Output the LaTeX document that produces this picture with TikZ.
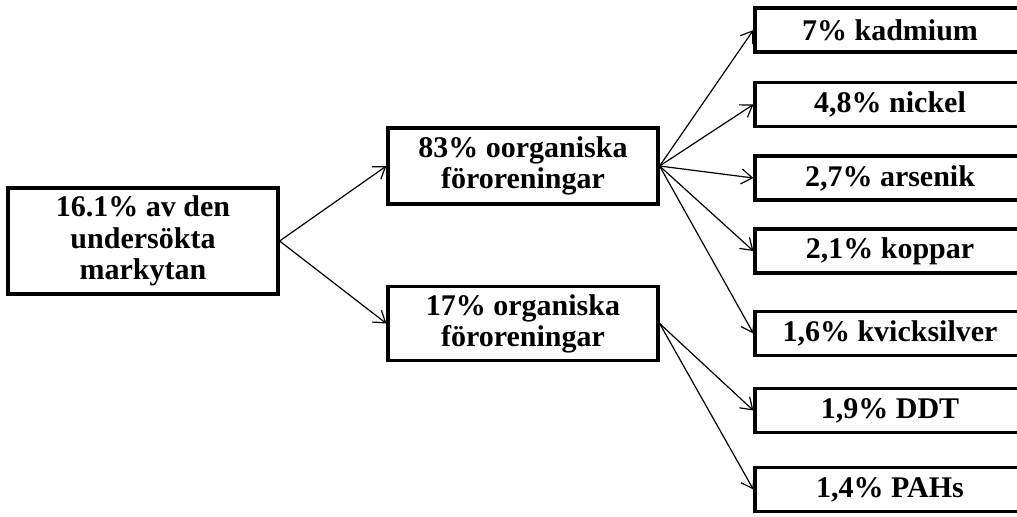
\documentclass[tikz,border=0pt]{standalone}
\usepackage{fontspec}
\setmainfont{Liberation Serif}
\usetikzlibrary{arrows.meta}
\tikzset{
  box/.style={draw=black, line width=1.6pt, fill=white, minimum width=135pt, inner sep=0pt,
    align=center, font=\fontsize{15}{15.6}\selectfont\bfseries},
  lbox/.style={box, minimum height=22pt},
  conn/.style={draw=black, line width=0.6pt, -{Straight Barb[length=5.5pt,width=7.5pt,line width=0.6pt]}}
}
\begin{document}
\begin{tikzpicture}[x=0.5pt,y=-0.5pt]
\clip (0,0) rectangle (1017,516);
\fill[white] (0,0) rectangle (1017,516);
\node[box, minimum height=53pt] (a) at (143,241) {16.1\% av den\\undersökta\\markytan};
\node[box, minimum height=38pt] (b) at (523,166) {83\% oorganiska\\föroreningar};
\node[box, minimum height=37pt] (c) at (523,323.5) {17\% organiska\\föroreningar};
\node[lbox] (r1) at (890,30) {7\% kadmium};
\node[lbox] (r2) at (890,104.5) {4,8\% nickel};
\node[lbox] (r3) at (890,178) {2,7\% arsenik};
\node[lbox] (r4) at (890,251) {2,1\% koppar};
\node[lbox] (r5) at (890,333.5) {1,6\% kvicksilver};
\node[lbox] (r6) at (890,410.5) {1,9\% DDT};
\node[lbox] (r7) at (890,489.5) {1,4\% PAHs};
\draw[conn] (a.east) -- (b.west);
\draw[conn] (a.east) -- (c.west);
\foreach \r in {r1,r2,r3,r4,r5} \draw[conn] (b.east) -- (\r.west);
\foreach \r in {r6,r7} \draw[conn] (c.east) -- (\r.west);
\end{tikzpicture}
\end{document}
